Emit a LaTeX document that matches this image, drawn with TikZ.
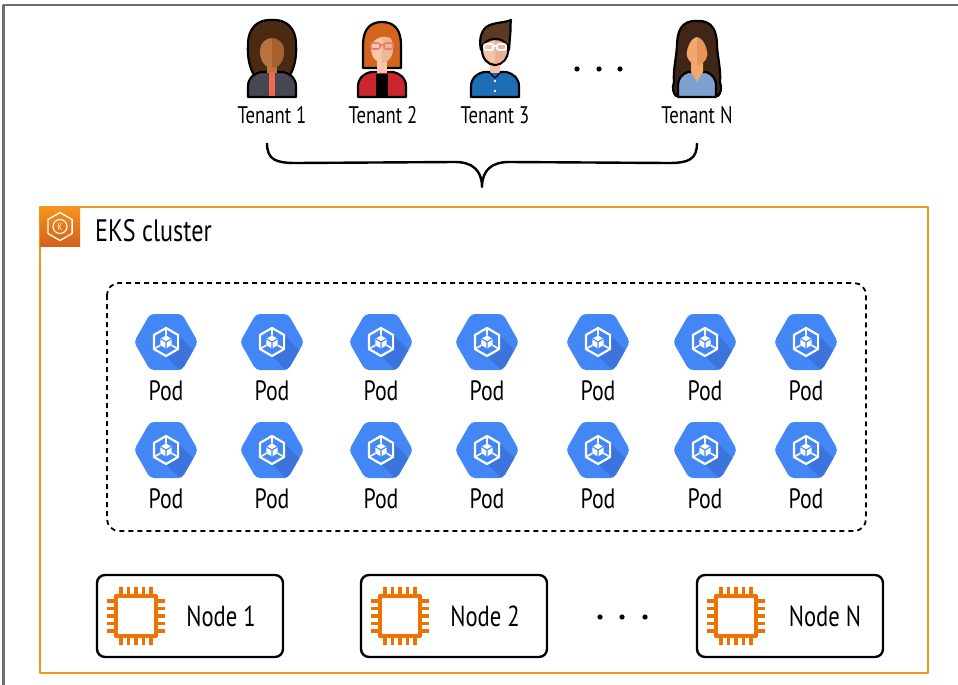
\documentclass[tikz,border=0pt]{standalone}
\usepackage{fontspec}
\setmainfont{PT Sans}[FakeStretch=0.78]
\definecolor{eksorange}{HTML}{F7941E}
\definecolor{eksdark}{HTML}{D2601A}
\definecolor{chiporange}{HTML}{EE7203}
\definecolor{podblue}{HTML}{4386F5}
\definecolor{podshade}{HTML}{3A74DC}
\definecolor{framegray}{HTML}{6E6E6E}
\definecolor{hairA}{HTML}{4B2A14}
\definecolor{skinA}{HTML}{B8743F}
\definecolor{skinAd}{HTML}{A5612E}
\definecolor{jacketA}{HTML}{474752}
\definecolor{shirtA}{HTML}{EE6A4C}
\definecolor{hairB}{HTML}{D4651F}
\definecolor{skinB}{HTML}{F6C7AB}
\definecolor{skinBd}{HTML}{EEB597}
\definecolor{jacketB}{HTML}{C9262F}
\definecolor{glassB}{HTML}{F07B6B}
\definecolor{hairC}{HTML}{5B3A24}
\definecolor{skinC}{HTML}{F5C3A5}
\definecolor{skinCd}{HTML}{EAB093}
\definecolor{shirtC}{HTML}{1E6DB5}
\definecolor{hairN}{HTML}{3F2616}
\definecolor{skinN}{HTML}{F2A76B}
\definecolor{skinNd}{HTML}{E5955A}
\definecolor{shirtN}{HTML}{7DA2CF}
% shoulders of a person icon, centred on x = 0
\newcommand\torsopath{(-24,97) -- (-24,87) .. controls (-24,78) and (-19,74) .. (-11,72) -- (11,72) .. controls (19,74) and (24,78) .. (24,87) -- (24,97) -- cycle}
\tikzset{
  outl/.style={draw=black, line width=2.2bp},
  tenantlabel/.style={font=\fontsize{24bp}{27bp}\selectfont, inner sep=0pt},
  podlabel/.style={font=\fontsize{28bp}{31bp}\selectfont, inner sep=0pt},
  nodelabel/.style={font=\fontsize{29bp}{32bp}\selectfont, inner sep=0pt},
  nodebox/.style={draw=black, line width=2.4bp, rounded corners=8bp, minimum width=186bp, minimum height=82bp, inner sep=0pt},
  dotmark/.style={fill=black},
  podicon/.pic={
    \begin{scope}
      \clip[rounded corners=4bp] (-32,0) -- (-16,-28) -- (16,-28) -- (32,0) -- (16,28) -- (-16,28) -- cycle;
      \fill[podblue] (-33,-30) rectangle (33,30);
      \fill[podshade] (12,-7) -- (42,23) -- (30,44) -- (0,14) -- (12,7) -- cycle;
    \end{scope}
    \draw[white, line width=2.2bp, line join=round] (0,-14) -- (12.1,-7) -- (12.1,7) -- (0,14) -- (-12.1,7) -- (-12.1,-7) -- cycle;
    \draw[white, line width=1.6bp] (0,-6.5) -- (0,-14) (5.6,3.25) -- (12.1,7) (-5.6,3.25) -- (-12.1,7);
    \fill[white] (0,-6.5) -- (5.6,-3.25) -- (5.6,3.25) -- (0,6.5) -- (-5.6,3.25) -- (-5.6,-3.25) -- cycle;
    \draw[podblue, line width=1.1bp] (-5.6,-3.25) -- (0,0) -- (5.6,-3.25) (0,0) -- (0,6.5);
  },
  chipicon/.pic={
    \draw[chiporange, line width=4bp] (-20,-20) rectangle (20,20);
    \foreach \p in {-15,-7.5,0,7.5,15} {
      \draw[chiporange, line width=3.6bp] (\p,-22) -- (\p,-29) (\p,22) -- (\p,29)
        (-22,\p) -- (-29,\p) (22,\p) -- (29,\p);
    }
  }
}
\begin{document}
\begin{tikzpicture}[x=1bp,y=-1bp, line join=round]
\useasboundingbox (0,0) rectangle (958,685);
% outer frame (left and top edges)
\draw[framegray, line width=2bp] (3.5,685) -- (3.5,5.5) -- (958,5.5);

% ---------------- tenants ----------------
% Tenant 1
\begin{scope}[shift={(272,0)}]
  \filldraw[outl, fill=hairA] (0,20) .. controls (15,19) and (24,29) .. (24,44) .. controls (25,58) and (22,70) .. (16,78) -- (-16,78) .. controls (-22,70) and (-25,58) .. (-24,44) .. controls (-24,29) and (-15,19) .. (0,20) -- cycle;
  \filldraw[outl, fill=jacketA] \torsopath;
  \fill[skinA] (-5,60) rectangle (5,73);
  \fill[shirtA] (-3,72) rectangle (3,96);
  \fill[skinA] (0,52) ellipse (12 and 16);
  \begin{scope}
    \clip (0,30) rectangle (13,70);
    \fill[skinAd] (0,52) ellipse (12 and 16);
  \end{scope}
  \fill[hairA] (-13,50) .. controls (-14,35) and (-6,31) .. (0,32) .. controls (6,31) and (14,35) .. (13,50) .. controls (11,42) and (6,38) .. (0,38) .. controls (-6,38) and (-11,42) .. (-13,50) -- cycle;
\end{scope}
% Tenant 2
\begin{scope}[shift={(382,0)}]
  \filldraw[outl, fill=hairB] (0,22) .. controls (14,22) and (19,32) .. (19,45) -- (19,68) -- (-19,68) -- (-19,45) .. controls (-19,32) and (-14,22) .. (0,22) -- cycle;
  \filldraw[outl, fill=jacketB] \torsopath;
  \fill[skinB] (-5,60) rectangle (5,73);
  \fill[black] (-6,74) rectangle (6,96);
  \fill[skinB] (0,48) ellipse (11 and 15);
  \begin{scope}
    \clip (0,30) rectangle (12,66);
    \fill[skinBd] (0,48) ellipse (11 and 15);
  \end{scope}
  \fill[hairB] (-12,46) .. controls (-12,30) and (6,28) .. (12,40) .. controls (4,34) and (-6,36) .. (-12,46) -- cycle;
  \draw[glassB, line width=1.6bp, rounded corners=2bp] (-11,43) rectangle (-2,49) (2,43) rectangle (11,49);
  \draw[glassB, line width=1.4bp] (-2,45) -- (2,45);
\end{scope}
% Tenant 3
\begin{scope}[shift={(495,0)}]
  \filldraw[outl, fill=shirtC] \torsopath;
  \fill[skinC] (-5,60) rectangle (5,73);
  \filldraw[outl, fill=skinC] (0,50) ellipse (13 and 15);
  \begin{scope}
    \clip (0,30) rectangle (15,68);
    \fill[skinCd] (0,50) ellipse (12 and 14);
  \end{scope}
  \filldraw[outl, fill=hairC] (-14,50) .. controls (-17,36) and (-12,26) .. (-2,24) .. controls (6,22) and (12,22) .. (16,20) .. controls (15,25) and (16,30) .. (15,36) -- (14,50) .. controls (12,41) and (6,39) .. (0,39) .. controls (-6,39) and (-12,42) .. (-14,50) -- cycle;
  \draw[white, line width=1.8bp, rounded corners=2bp] (-11,44) rectangle (-2,50) (2,44) rectangle (11,50);
  \draw[white, line width=1.4bp] (-2,46) -- (2,46);
  \draw[black, line width=1.4bp] (-6,72) -- (0,78) -- (6,72);
  \fill[white] (0,81) circle (1.4) (0,91) circle (1.4);
\end{scope}
% Tenant N
\begin{scope}[shift={(697,0)}]
  \filldraw[outl, fill=hairN] (0,21) .. controls (16,20) and (20,32) .. (20,46) .. controls (21,60) and (24,70) .. (23,82) .. controls (25,88) and (24,93) .. (21,96) -- (-21,96) .. controls (-24,93) and (-25,88) .. (-23,82) .. controls (-24,70) and (-21,60) .. (-20,46) .. controls (-20,32) and (-16,20) .. (0,21) -- cycle;
  \filldraw[outl, fill=shirtN] (-19,97) -- (-19,86) .. controls (-19,78) and (-15,74) .. (-9,72) -- (9,72) .. controls (15,74) and (19,78) .. (19,86) -- (19,97) -- cycle;
  \fill[skinN] (-6,60) -- (6,60) -- (6,72) -- (0,82) -- (-6,72) -- cycle;
  \fill[skinN] (0,50) ellipse (11 and 15);
  \begin{scope}
    \clip (0,30) rectangle (12,68);
    \fill[skinNd] (0,50) ellipse (11 and 15);
  \end{scope}
  \fill[hairN] (-13,62) .. controls (-14,40) and (-8,33) .. (0,34) .. controls (8,33) and (14,40) .. (13,62) -- (11,62) .. controls (11,46) and (6,38) .. (0,37) .. controls (-6,38) and (-11,46) .. (-11,62) -- cycle;
\end{scope}

\node[tenantlabel] (t1) at (272,115) {Tenant 1};
\node[tenantlabel] (t2) at (383,115) {Tenant 2};
\node[tenantlabel] (t3) at (495,115) {Tenant 3};
\node[tenantlabel] (tn) at (697,115) {Tenant N};
\foreach \x in {577,599,620} \fill[dotmark] (\x,69) circle (2.6);

% brace gathering the tenants
\coordinate (bl) at (267,143);
\coordinate (br) at (697,143);
\coordinate (btip) at (482,187);
\draw[line width=2.4bp] (bl) .. controls (267,160) and (276,163) .. (296,163) -- (455,162) .. controls (472,162) and (482,170) .. (btip) .. controls (482,170) and (492,162) .. (509,162) -- (668,163) .. controls (688,163) and (697,160) .. (br);

% ---------------- EKS cluster ----------------
\node[draw=eksorange, line width=2.6bp, minimum width=888bp, minimum height=466bp, inner sep=0pt] (eks) at (484,440) {};
\shade[top color=eksorange, bottom color=eksdark] (40,207) rectangle (80,246);
\begin{scope}[shift={(60,226.5)}]
  \draw[white, line width=1.3bp] (0,-14) -- (12.1,-7) -- (12.1,7) -- (0,14) -- (-12.1,7) -- (-12.1,-7) -- cycle;
  \draw[white, line width=1.1bp] (0,0) circle (7);
  \node[text=white, font=\fontsize{10bp}{11bp}\selectfont, inner sep=0pt] (klogo) at (0,0) {K};
\end{scope}
\node[anchor=west, font=\fontsize{31bp}{34bp}\selectfont, inner sep=0pt] (ekslabel) at (95,231) {EKS cluster};

% pods
\draw[line width=1.8bp, dash pattern=on 5bp off 4bp, rounded corners=12bp] (107,283) rectangle (866,531);
\foreach \x [count=\i] in {166,272,381,487,598,705,806} {
  \pic at (\x,342) {podicon};
  \node[podlabel] (pa\i) at (\x,391) {Pod};
  \pic at (\x,450) {podicon};
  \node[podlabel] (pb\i) at (\x,499) {Pod};
}

% worker nodes
\node[nodebox] (n1) at (190,616) {};
\node[nodebox] (n2) at (454,616) {};
\node[nodebox] (nn) at (790,616) {};
\pic at ([xshift=40bp]n1.west) {chipicon};
\pic at ([xshift=40bp]n2.west) {chipicon};
\pic at ([xshift=40bp]nn.west) {chipicon};
\node[nodelabel] (n1l) at (221,616) {Node 1};
\node[nodelabel] (n2l) at (485,616) {Node 2};
\node[nodelabel] (nnl) at (825,616) {Node N};
\foreach \x in {600,622,645} \fill[dotmark] (\x,617) circle (2.6);
\end{tikzpicture}
\end{document}
